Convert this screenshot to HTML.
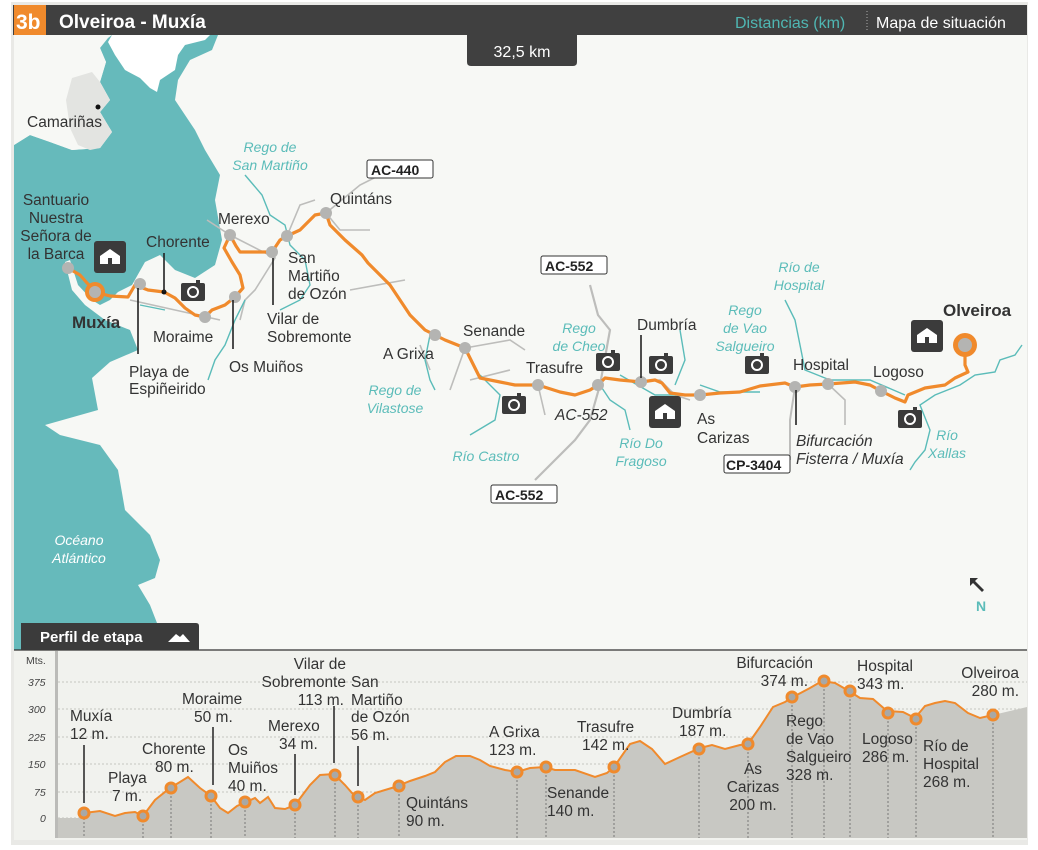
<!DOCTYPE html>
<html><head><meta charset="utf-8"><style>
html,body{margin:0;padding:0;background:#fff;}
svg{display:block;font-family:"Liberation Sans",sans-serif;}
.l{font-size:15.5px;fill:#333;}
.r{font-size:14px;fill:#5bbcb9;font-style:italic;}
.p{font-size:15.5px;fill:#333;}
.ax{font-size:10.5px;fill:#444;font-style:italic;}
</style></head><body>
<svg width="1038" height="850" viewBox="0 0 1038 850" xmlns="http://www.w3.org/2000/svg">
<rect x="0" y="0" width="1038" height="850" fill="#fff"/>
<rect x="11" y="2" width="1017" height="843" fill="#e9e9e6"/>
<rect x="14" y="35" width="1013" height="615" fill="#f7f8f5"/>
<polygon points="100,48 108,38 112,35 218,35 212,50 190,60 178,80 175,100 195,130 205,150 220,175 215,200 222,240 215,265 195,278 175,270 160,255 145,262 132,285 118,292 110,300 100,305 92,300 78,285 70,260 65,262 72,290 85,305 105,320 130,330 138,350 110,362 92,378 98,410 45,425 60,435 100,445 118,470 125,510 150,535 160,560 155,578 138,585 150,605 157,623 14,623 14,145 30,135 50,142 72,150 100,148 112,132 100,112 110,100 100,82 106,62" fill="#66babb"/>
<polygon points="14,35 100,35 100,48 106,62 100,82 110,100 100,112 112,132 100,148 72,150 50,142 30,135 14,145" fill="#f7f8f5"/>
<polygon points="112,35 210,35 205,40 185,45 178,55 175,70 160,80 157,92 150,88 140,78 125,70 115,55 108,42" fill="#ffffff"/>
<polygon points="72,78 92,72 100,82 110,100 100,112 112,132 100,148 90,150 78,145 70,128 66,100" fill="#e3e4e1"/>
<rect x="14" y="623" width="8" height="27" fill="#66babb"/>
<circle cx="98" cy="107" r="2.5" fill="#111"/>
<g fill="none" stroke="#bdbdbb" stroke-width="1.6">
<path d="M207,220 L230,235 L275,258 L255,290 L245,300 L240,320"/>
<path d="M287,236 L300,205 L315,200"/>
<path d="M326,213 L360,185 L380,175"/>
<path d="M326,213 L340,230 L370,230"/>
<path d="M130,300 L175,310 L220,320"/>
<path d="M350,290 L405,280"/>
<path d="M420,345 L430,370"/>
<path d="M465,348 L450,390"/>
<path d="M465,348 L510,340 L525,350"/>
<path d="M538,385 L545,415"/>
<path d="M590,285 L598,315 L610,330 L600,385 L590,420 L575,440 L545,470 L535,480" stroke-width="2.2"/>
<path d="M641,382 L660,380 L675,395 L690,400"/>
<path d="M795,387 L790,420 L790,460" stroke-width="2"/>
<path d="M828,384 L845,400 L845,425"/>
<path d="M470,380 L510,370"/>
</g>
<g fill="none" stroke="#5bbcb9" stroke-width="1.4">
<path d="M245,175 L262,195 L270,215 L285,225 L290,245 L305,260 L310,285 L300,300 L280,310"/>
<path d="M245,300 L235,320 L225,345 L215,360 L208,380"/>
<path d="M430,335 L425,360 L430,380 L435,390"/>
<path d="M480,375 L500,395 L495,420 L470,435"/>
<path d="M600,385 L610,400 L625,410 L630,430"/>
<path d="M620,375 L655,395 L690,395"/>
<path d="M680,330 L685,360 L675,385"/>
<path d="M785,300 L795,320 L800,345 L805,370 L830,380"/>
<path d="M830,380 L870,380 L905,395"/>
<path d="M1022,345 L1015,355 L1000,360 L995,372 L975,375 L960,385 L935,395 L920,405 L930,430 L925,450 L915,462 L910,470"/>
<path d="M700,385 L720,392 L760,392"/>
<path d="M140,305 L165,310"/>
</g>
<g fill="none" stroke="#f08a2c" stroke-width="3.2" stroke-linejoin="round">
<path d="M68,268 L80,275 L95,292 L110,296 L128,297 L135,285 L148,290 L164,292 L175,298 L185,308 L195,315 L205,317 L212,310 L225,305 L235,297 L243,288 L240,275 L232,262 L224,248 L230,235 L236,246 L240,252 L260,252 L272,252 L280,240 L287,236 L300,230 L315,215 L326,213 L330,225 L345,240 L362,255 L368,263 L390,285 L400,300 L410,315 L425,330 L435,335 L445,340 L465,348 L472,362 L480,378 L500,382 L515,385 L538,385 L560,392 L575,395 L590,390 L598,385 L605,378 L620,380 L641,382 L655,380 L662,383 L670,393 L685,395 L700,395 L720,393 L740,392 L760,386 L785,383 L795,387 L810,385 L828,384 L855,382 L870,385 L881,391 L895,398 L905,402 L908,395 L925,388 L945,385 L955,378 L968,372 L965,365 L965,345"/>
</g>
<circle cx="95" cy="292" r="10" fill="#f08a2c"/><circle cx="95" cy="292" r="6" fill="#b4b4b2"/>
<circle cx="965" cy="345" r="12" fill="#f08a2c"/><circle cx="965" cy="345" r="7" fill="#b4b4b2"/>
<g fill="#b4b4b2">
<circle cx="68" cy="268" r="6"/><circle cx="140" cy="284" r="6"/><circle cx="205" cy="317" r="6"/><circle cx="235" cy="297" r="6"/><circle cx="230" cy="235" r="6"/><circle cx="272" cy="252" r="6"/><circle cx="287" cy="236" r="6"/><circle cx="326" cy="213" r="6"/><circle cx="435" cy="335" r="6"/><circle cx="465" cy="348" r="6"/><circle cx="538" cy="385" r="6"/><circle cx="598" cy="385" r="6"/><circle cx="641" cy="382" r="6"/><circle cx="700" cy="395" r="6"/><circle cx="795" cy="387" r="6"/><circle cx="828" cy="384" r="6"/><circle cx="881" cy="391" r="6"/>
</g>
<circle cx="164" cy="292" r="2.5" fill="#111"/>
<g stroke="#222" stroke-width="1.6">
<line x1="164" y1="253" x2="164" y2="292"/><line x1="138" y1="288" x2="138" y2="354"/><line x1="233" y1="300" x2="233" y2="349"/><line x1="273" y1="258" x2="273" y2="305"/><line x1="641" y1="335" x2="641" y2="378"/><line x1="796" y1="390" x2="796" y2="425"/>
</g>
<g>
<rect x="94" y="241" width="32" height="32" rx="3" fill="#3b3b3b"/><path d="M100,264 L100,256 L110,249 L120,256 L120,264 Z" fill="#fff"/><rect x="108" y="258" width="4" height="6" fill="#3b3b3b"/>
<rect x="911" y="320" width="32" height="32" rx="3" fill="#3b3b3b"/><path d="M917,343 L917,335 L927,328 L937,335 L937,343 Z" fill="#fff"/><rect x="925" y="337" width="4" height="6" fill="#3b3b3b"/>
<rect x="649" y="396" width="32" height="32" rx="3" fill="#3b3b3b"/><path d="M655,419 L655,411 L665,404 L675,411 L675,419 Z" fill="#fff"/><rect x="663" y="413" width="4" height="6" fill="#3b3b3b"/>
</g>
<g fill="#3b3b3b">
<rect x="181" y="283" width="24" height="18" rx="2"/><rect x="196" y="280" width="4" height="4"/>
<rect x="502" y="396" width="24" height="18" rx="2"/><rect x="517" y="393" width="4" height="4"/>
<rect x="596" y="353" width="24" height="18" rx="2"/><rect x="611" y="350" width="4" height="4"/>
<rect x="649" y="356" width="24" height="18" rx="2"/><rect x="664" y="353" width="4" height="4"/>
<rect x="745" y="356" width="24" height="18" rx="2"/><rect x="760" y="353" width="4" height="4"/>
<rect x="898" y="410" width="24" height="18" rx="2"/><rect x="913" y="407" width="4" height="4"/>
</g>
<g fill="none" stroke="#fff" stroke-width="2">
<circle cx="193" cy="292" r="5"/><circle cx="514" cy="405" r="5"/><circle cx="608" cy="362" r="5"/><circle cx="661" cy="365" r="5"/><circle cx="757" cy="365" r="5"/><circle cx="910" cy="419" r="5"/>
</g>
<g font-size="14" font-weight="bold" fill="#222">
<rect x="367" y="160" width="66" height="18" rx="2" fill="#fff" stroke="#333"/><text x="371" y="175">AC-440</text>
<rect x="541" y="256" width="66" height="18" rx="2" fill="#fff" stroke="#333"/><text x="545" y="271">AC-552</text>
<rect x="491" y="485" width="66" height="18" rx="2" fill="#fff" stroke="#333"/><text x="495" y="500">AC-552</text>
<rect x="724" y="455" width="66" height="18" rx="2" fill="#fff" stroke="#333"/><text x="726" y="470">CP-3404</text>
</g>
<g class="l">
<text x="27" y="127">Camariñas</text>
<text x="56" y="205" text-anchor="middle">Santuario</text><text x="56" y="223" text-anchor="middle">Nuestra</text><text x="56" y="241" text-anchor="middle">Señora de</text><text x="56" y="259" text-anchor="middle">la Barca</text>
<text x="146" y="247">Chorente</text>
<text x="218" y="224">Merexo</text>
<text x="330" y="204">Quintáns</text>
<text x="288" y="263">San</text><text x="288" y="281">Martiño</text><text x="288" y="299">de Ozón</text>
<text x="267" y="324">Vilar de</text><text x="267" y="342">Sobremonte</text>
<text x="153" y="342">Moraime</text>
<text x="229" y="372">Os Muiños</text>
<text x="129" y="377">Playa de</text><text x="129" y="394">Espiñeirido</text>
<text x="383" y="359">A Grixa</text>
<text x="463" y="336">Senande</text>
<text x="526" y="373">Trasufre</text>
<text x="637" y="330">Dumbría</text>
<text x="697" y="424">As</text><text x="697" y="443">Carizas</text>
<text x="793" y="370">Hospital</text>
<text x="873" y="377">Logoso</text>
<text x="555" y="420" font-style="italic">AC-552</text>
<text x="796" y="446" font-style="italic">Bifurcación</text><text x="796" y="464" font-style="italic">Fisterra / Muxía</text>
<text x="72" y="328" font-weight="bold" font-size="17">Muxía</text>
<text x="943" y="316" font-weight="bold" font-size="17">Olveiroa</text>
</g>
<g class="r">
<text x="270" y="152" text-anchor="middle">Rego de</text><text x="270" y="170" text-anchor="middle">San Martiño</text>
<text x="395" y="395" text-anchor="middle">Rego de</text><text x="395" y="413" text-anchor="middle">Vilastose</text>
<text x="486" y="461" text-anchor="middle">Río Castro</text>
<text x="579" y="333" text-anchor="middle">Rego</text><text x="579" y="351" text-anchor="middle">de Cheo</text>
<text x="641" y="448" text-anchor="middle">Río Do</text><text x="641" y="466" text-anchor="middle">Fragoso</text>
<text x="745" y="315" text-anchor="middle">Rego</text><text x="745" y="333" text-anchor="middle">de Vao</text><text x="745" y="351" text-anchor="middle">Salgueiro</text>
<text x="799" y="272" text-anchor="middle">Río de</text><text x="799" y="290" text-anchor="middle">Hospital</text>
<text x="947" y="440" text-anchor="middle">Río</text><text x="947" y="458" text-anchor="middle">Xallas</text>
<text x="79" y="545" text-anchor="middle" fill="#fff">Océano</text><text x="79" y="563" text-anchor="middle" fill="#fff">Atlántico</text>
</g>
<path d="M970,578 L978,578 L975,581 L984,590 L982,592 L973,583 L970,586 Z" fill="#333"/>
<text x="976" y="611" font-size="14" font-weight="bold" fill="#5bbcb9">N</text>
<rect x="13" y="5" width="1014" height="30" fill="#404040"/>
<rect x="14" y="5" width="32" height="30" fill="#f08a2c"/>
<text x="16" y="29" font-size="21" font-weight="bold" fill="#fff">3b</text>
<text x="59" y="28" font-size="19" font-weight="bold" fill="#fff">Olveiroa - Muxía</text>
<text x="735" y="28" font-size="16" fill="#4fb7b3">Distancias (km)</text>
<line x1="867" y1="11" x2="867" y2="31" stroke="#aaa" stroke-dasharray="1,2"/>
<text x="876" y="28" font-size="16" fill="#fff">Mapa de situación</text>
<path d="M467,35 L577,35 L577,62 Q577,66 573,66 L471,66 Q467,66 467,62 Z" fill="#404040"/>
<text x="522" y="57" font-size="16" fill="#fff" text-anchor="middle">32,5 km</text>
<rect x="14" y="650" width="1013" height="190" fill="#f1f2ee"/>
<rect x="55" y="651" width="3" height="187" fill="#bbbbb8"/>
<g stroke="#c5c5c0" stroke-dasharray="2,2" stroke-width="1">
<line x1="58" y1="682" x2="1027" y2="682"/><line x1="58" y1="709" x2="1027" y2="709"/><line x1="58" y1="737" x2="1027" y2="737"/><line x1="58" y1="764" x2="1027" y2="764"/><line x1="58" y1="792" x2="1027" y2="792"/><line x1="58" y1="818" x2="1027" y2="818"/>
</g>
<path d="M58,818 L84,818 L84,813 L100,811 L115,816 L125,813 L135,812 L143,816 L155,800 L170,788 L180,782 L188,777 L200,788 L211,796 L220,808 L228,813 L237,806 L244,803 L255,798 L260,803 L268,797 L275,808 L285,809 L295,805 L310,785 L320,775 L334,774 L345,785 L352,793 L358,797 L365,800 L375,793 L395,787 L410,781 L425,776 L435,772 L445,762 L456,756 L470,756 L480,760 L490,766 L505,770 L517,772 L530,768 L545,767 L555,770 L575,770 L595,777 L607,773 L614,767 L630,744 L640,741 L652,749 L665,764 L680,757 L700,748 L712,745 L725,749 L740,745 L748,744 L760,727 L773,707 L785,702 L793,697 L810,688 L822,681 L835,683 L849,691 L860,698 L873,699 L887,711 L903,712 L915,718 L925,706 L935,703 L945,701 L955,703 L968,713 L980,718 L993,715 L1010,711 L1027,707 L1027,838 L58,838 Z" fill="#c8c8c3"/>
<path d="M84,813 L100,811 L115,816 L125,813 L135,812 L143,816 L155,800 L170,788 L180,782 L188,777 L200,788 L211,796 L220,808 L228,813 L237,806 L244,803 L255,798 L260,803 L268,797 L275,808 L285,809 L295,805 L310,785 L320,775 L334,774 L345,785 L352,793 L358,797 L365,800 L375,793 L395,787 L410,781 L425,776 L435,772 L445,762 L456,756 L470,756 L480,760 L490,766 L505,770 L517,772 L530,768 L545,767 L555,770 L575,770 L595,777 L607,773 L614,767 L630,744 L640,741 L652,749 L665,764 L680,757 L700,748 L712,745 L725,749 L740,745 L748,744 L760,727 L773,707 L785,702 L793,697 L810,688 L822,681 L835,683 L849,691 L860,698 L873,699 L887,711 L903,712 L915,718 L925,706 L935,703 L945,701 L955,703 L968,713 L980,718 L993,715" fill="none" stroke="#f08a2c" stroke-width="2"/>
<g stroke="#777" stroke-dasharray="2,2">
<line x1="84" y1="818" x2="84" y2="838"/><line x1="143" y1="820" x2="143" y2="838"/><line x1="171" y1="792" x2="171" y2="838"/><line x1="211" y1="800" x2="211" y2="838"/><line x1="245" y1="806" x2="245" y2="838"/><line x1="295" y1="809" x2="295" y2="838"/><line x1="335" y1="779" x2="335" y2="838"/><line x1="358" y1="801" x2="358" y2="838"/><line x1="399" y1="790" x2="399" y2="838"/><line x1="517" y1="776" x2="517" y2="838"/><line x1="546" y1="771" x2="546" y2="838"/><line x1="614" y1="771" x2="614" y2="838"/><line x1="699" y1="753" x2="699" y2="838"/><line x1="748" y1="748" x2="748" y2="838"/><line x1="792" y1="701" x2="792" y2="838"/><line x1="824" y1="685" x2="824" y2="838"/><line x1="850" y1="695" x2="850" y2="838"/><line x1="888" y1="717" x2="888" y2="838"/><line x1="916" y1="723" x2="916" y2="838"/><line x1="993" y1="719" x2="993" y2="838"/>
</g>
<g stroke="#222" stroke-width="1.5">
<line x1="84" y1="745" x2="84" y2="803"/><line x1="213" y1="727" x2="213" y2="785"/><line x1="295" y1="754" x2="295" y2="795"/><line x1="334" y1="706" x2="334" y2="763"/><line x1="358" y1="746" x2="358" y2="786"/>
</g>
<g fill="#a8a8a6" stroke="#f08a2c" stroke-width="3">
<circle cx="84" cy="813" r="5"/><circle cx="143" cy="816" r="5"/><circle cx="171" cy="788" r="5"/><circle cx="211" cy="796" r="5"/><circle cx="245" cy="802" r="5"/><circle cx="295" cy="805" r="5"/><circle cx="335" cy="775" r="5"/><circle cx="358" cy="797" r="5"/><circle cx="399" cy="786" r="5"/><circle cx="517" cy="772" r="5"/><circle cx="546" cy="767" r="5"/><circle cx="614" cy="767" r="5"/><circle cx="699" cy="749" r="5"/><circle cx="748" cy="744" r="5"/><circle cx="792" cy="697" r="5"/><circle cx="824" cy="681" r="5"/><circle cx="850" cy="691" r="5"/><circle cx="888" cy="713" r="5"/><circle cx="916" cy="719" r="5"/><circle cx="993" cy="715" r="5"/>
</g>
<g class="ax">
<text x="26" y="664" font-style="normal">Mts.</text>
<text x="28" y="686">375</text><text x="28" y="713">300</text><text x="28" y="741">225</text><text x="28" y="768">150</text><text x="34" y="796">75</text><text x="40" y="822">0</text>
</g>
<g class="p">
<text x="70" y="721">Muxía</text><text x="70" y="739">12 m.</text>
<text x="108" y="783">Playa</text><text x="112" y="801">7 m.</text>
<text x="142" y="754">Chorente</text><text x="155" y="772">80 m.</text>
<text x="182" y="704">Moraime</text><text x="194" y="722">50 m.</text>
<text x="228" y="755">Os</text><text x="228" y="773">Muiños</text><text x="228" y="791">40 m.</text>
<text x="268" y="731">Merexo</text><text x="279" y="749">34 m.</text>
<text x="346" y="669" text-anchor="end">Vilar de</text><text x="346" y="687" text-anchor="end">Sobremonte</text><text x="344" y="705" text-anchor="end">113 m.</text>
<text x="351" y="687">San</text><text x="351" y="705">Martiño</text><text x="351" y="722">de Ozón</text><text x="351" y="740">56 m.</text>
<text x="406" y="808">Quintáns</text><text x="406" y="826">90 m.</text>
<text x="489" y="737">A Grixa</text><text x="489" y="755">123 m.</text>
<text x="547" y="798">Senande</text><text x="547" y="816">140 m.</text>
<text x="577" y="732">Trasufre</text><text x="582" y="750">142 m.</text>
<text x="672" y="718">Dumbría</text><text x="679" y="736">187 m.</text>
<text x="753" y="774" text-anchor="middle">As</text><text x="753" y="792" text-anchor="middle">Carizas</text><text x="753" y="810" text-anchor="middle">200 m.</text>
<text x="813" y="668" text-anchor="end">Bifurcación</text><text x="808" y="686" text-anchor="end">374 m.</text>
<text x="786" y="726">Rego</text><text x="786" y="744">de Vao</text><text x="786" y="762">Salgueiro</text><text x="786" y="780">328 m.</text>
<text x="857" y="671">Hospital</text><text x="857" y="689">343 m.</text>
<text x="862" y="744">Logoso</text><text x="862" y="762">286 m.</text>
<text x="923" y="751">Río de</text><text x="923" y="769">Hospital</text><text x="923" y="787">268 m.</text>
<text x="1019" y="678" text-anchor="end">Olveiroa</text><text x="1019" y="696" text-anchor="end">280 m.</text>
</g>
<line x1="14" y1="650" x2="1027" y2="650" stroke="#333" stroke-width="1.2"/>
<path d="M21,623 L196,623 Q199,623 199,626 L199,650 L21,650 Z" fill="#3b3b3b"/>
<text x="40" y="642" font-size="15" font-weight="bold" fill="#fff">Perfil de etapa</text>
<path d="M168,642 L176,634 L180,637 L183,634 L190,642 Z" fill="#fff"/>
</svg>
</body></html>
